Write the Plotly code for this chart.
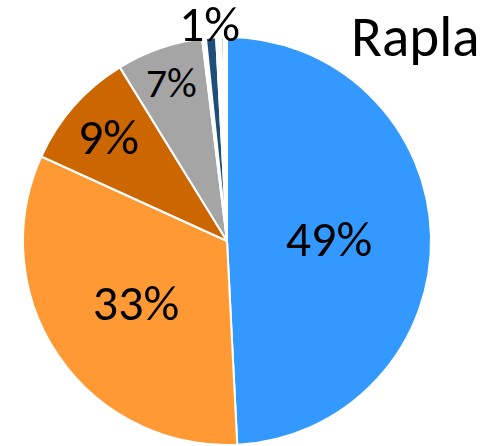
import math
import plotly.graph_objects as go

categories = ["A", "B", "C", "D", "E", "F", "G", "H", "I"]
values = [49.2, 32.6, 9.4, 6.85, 0.3, 0.8, 0.4, 0.2, 0.25]
labels_text = ["49%", "33%", "9%", "7%", "", "1%", "", "", ""]
colors = ["#3399FF", "#FF9933", "#CC6600", "#A5A5A5", "#FFFFFF", "#1F4E79",
          "#FFFFFF", "#92D050", "#FFFFFF"]
outside_label = [False, False, False, False, False, True, False, False, False]

W, H = 488, 446
cx, cy, r = 227, 241, 204
font_family = "Carlito, Calibri, Lato, sans-serif"

inside_text = [t if not o else "" for t, o in zip(labels_text, outside_label)]

fig = go.Figure(go.Pie(
    labels=categories,
    values=values,
    text=inside_text,
    textinfo="text",
    textposition="inside",
    insidetextorientation="horizontal",
    sort=False,
    direction="clockwise",
    rotation=0,
    marker=dict(colors=colors, line=dict(color="white", width=2)),
    textfont=dict(family=font_family, size=50, color="black"),
    domain=dict(x=[(cx - r) / W, (cx + r) / W], y=[(H - cy - r) / H, (H - cy + r) / H]),
    showlegend=False,
    hoverinfo="none",
))

# outside label for the small slice, positioned from the slice's mid-angle
total = sum(values)
cum = 0.0
for v, t, o in zip(values, labels_text, outside_label):
    mid = (cum + v / 2) / total * 2 * math.pi
    cum += v
    if o:
        rr = r * 1.07
        px = cx + rr * math.sin(mid)
        py = cy - rr * math.cos(mid)
        fig.add_annotation(x=px / W, y=1 - py / H, xref="paper", yref="paper",
                           text=t, showarrow=False, xanchor="center", yanchor="middle",
                           borderpad=0,
                           font=dict(family=font_family, size=50, color="black"))

fig.add_annotation(x=482 / W, y=1 - 36 / H, xref="paper", yref="paper", text="Rapla",
                   showarrow=False, xanchor="right", yanchor="middle",
                   font=dict(family=font_family, size=57, color="black"))

fig.update_layout(
    width=W, height=H,
    margin=dict(l=0, r=0, t=0, b=0),
    paper_bgcolor="white",
)

fig.write_html("out.html",
               config={"displayModeBar": False},
               post_script="document.body.style.margin='0';document.body.style.overflow='hidden';")
